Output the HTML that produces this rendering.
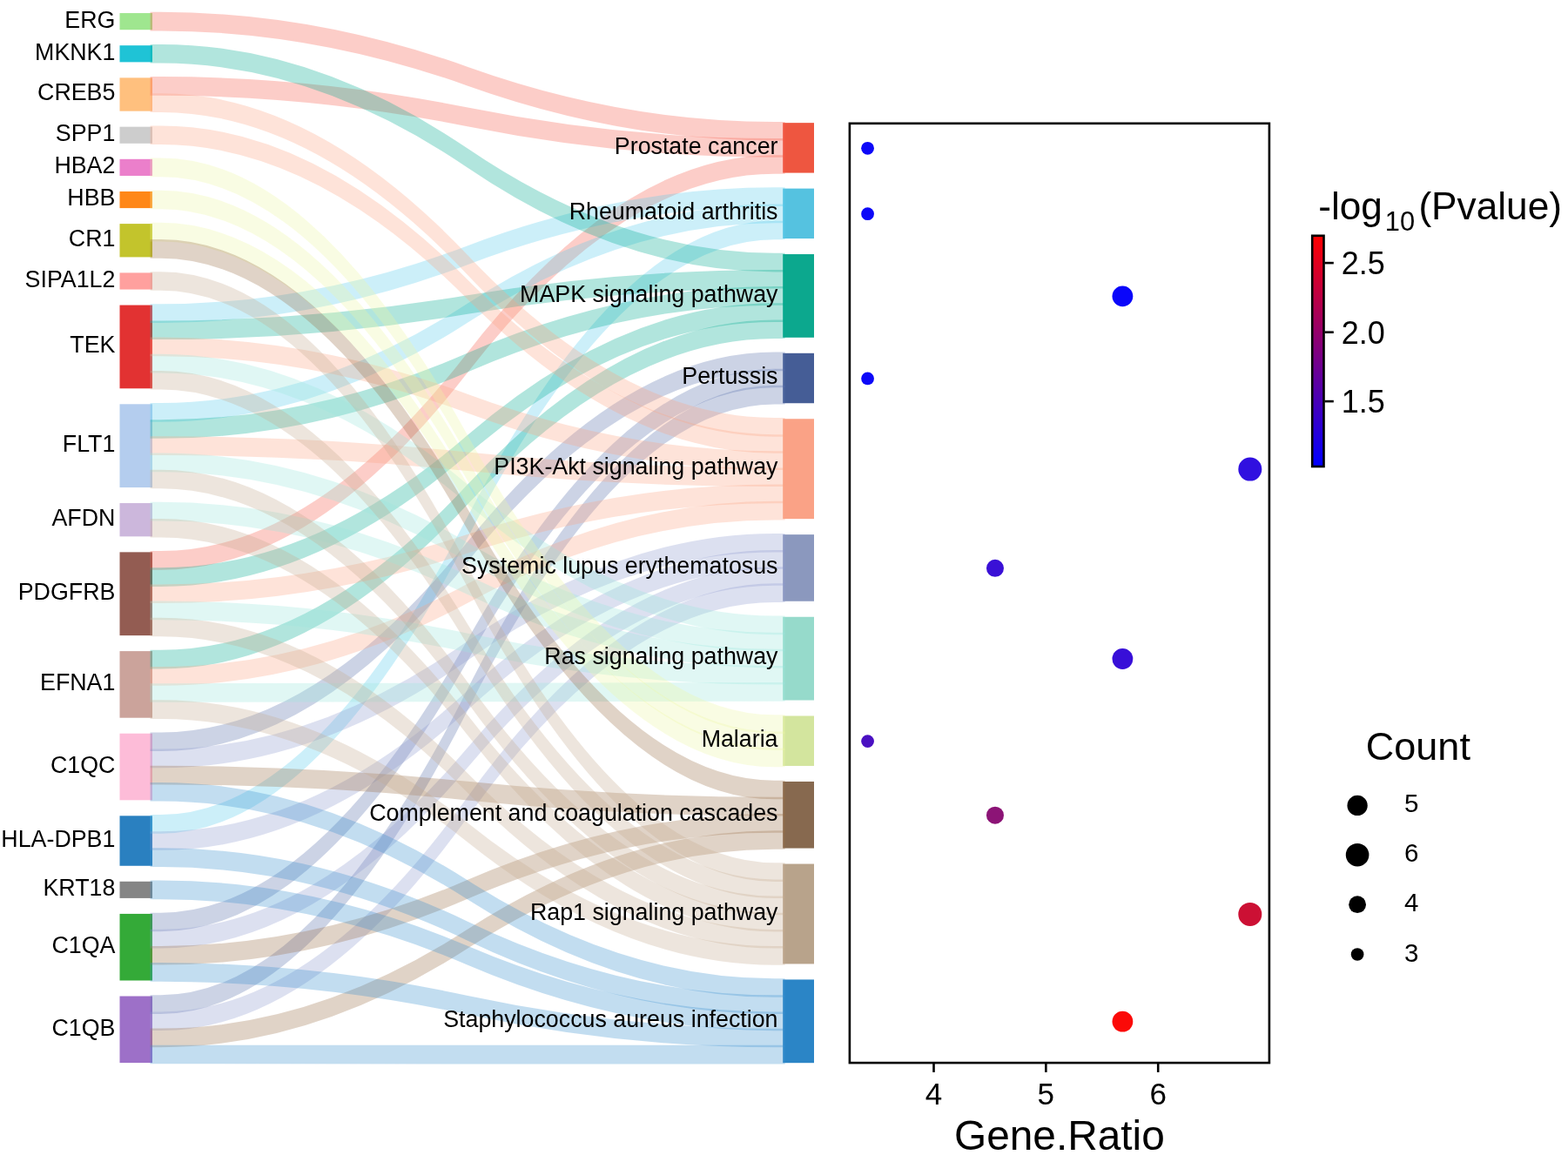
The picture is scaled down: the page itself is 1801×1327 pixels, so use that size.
<!DOCTYPE html>
<html lang="en">
<head>
<meta charset="utf-8">
<title>KEGG pathway Sankey dot plot</title>
<style>
html,body{margin:0;padding:0;background:#fff;}
body{width:1801px;height:1327px;overflow:hidden;}
svg{display:block;}
text{font-family:"Liberation Sans", sans-serif;fill:#000;}
.lab{font-size:26.8px;}
</style>
</head>
<body>
<svg width="1801" height="1327" viewBox="0 0 1801 1327">
<rect x="0" y="0" width="1801" height="1327" fill="#ffffff"/>
<g id="nodes">
<rect x="137.5" y="15.06" width="37.5" height="19.15" fill="#9FE68F" fill-opacity="1.0"/>
<rect x="137.5" y="52.21" width="37.5" height="19.15" fill="#1FC3D6" fill-opacity="1.0"/>
<rect x="137.5" y="89.36" width="37.5" height="38.3" fill="#FFC07E" fill-opacity="1.0"/>
<rect x="137.5" y="145.66" width="37.5" height="19.15" fill="#CDCDCD" fill-opacity="1.0"/>
<rect x="137.5" y="182.81" width="37.5" height="19.15" fill="#EB7FCB" fill-opacity="1.0"/>
<rect x="137.5" y="219.96" width="37.5" height="19.15" fill="#FF8718" fill-opacity="1.0"/>
<rect x="137.5" y="257.11" width="37.5" height="38.3" fill="#C3C42C" fill-opacity="1.0"/>
<rect x="137.5" y="313.41" width="37.5" height="19.15" fill="#FFA09E" fill-opacity="1.0"/>
<rect x="137.5" y="350.56" width="37.5" height="95.75" fill="#E23232" fill-opacity="1.0"/>
<rect x="137.5" y="464.31" width="37.5" height="95.75" fill="#B4CDEE" fill-opacity="1.0"/>
<rect x="137.5" y="578.06" width="37.5" height="38.3" fill="#CCB7DC" fill-opacity="1.0"/>
<rect x="137.5" y="634.36" width="37.5" height="95.75" fill="#935C52" fill-opacity="1.0"/>
<rect x="137.5" y="748.11" width="37.5" height="76.6" fill="#CBA39B" fill-opacity="1.0"/>
<rect x="137.5" y="842.71" width="37.5" height="76.6" fill="#FDBCD8" fill-opacity="1.0"/>
<rect x="137.5" y="937.31" width="37.5" height="57.45" fill="#2A80C0" fill-opacity="1.0"/>
<rect x="137.5" y="1012.76" width="37.5" height="19.15" fill="#858585" fill-opacity="1.0"/>
<rect x="137.5" y="1049.91" width="37.5" height="76.6" fill="#34AA38" fill-opacity="1.0"/>
<rect x="137.5" y="1144.51" width="37.5" height="76.6" fill="#9D70C8" fill-opacity="1.0"/>
<rect x="899.2" y="141.15" width="35.8" height="57.45" fill="#EE5640" fill-opacity="1.0"/>
<rect x="899.2" y="216.6" width="35.8" height="57.45" fill="#55C2E0" fill-opacity="1.0"/>
<rect x="899.2" y="292.05" width="35.8" height="95.75" fill="#0CA88E" fill-opacity="1.0"/>
<rect x="899.2" y="405.8" width="35.8" height="57.45" fill="#455D96" fill-opacity="1.0"/>
<rect x="899.2" y="481.25" width="35.8" height="114.9" fill="#FAA286" fill-opacity="1.0"/>
<rect x="899.2" y="614.15" width="35.8" height="76.6" fill="#8B98BE" fill-opacity="1.0"/>
<rect x="899.2" y="708.75" width="35.8" height="95.75" fill="#96DACB" fill-opacity="1.0"/>
<rect x="899.2" y="822.5" width="35.8" height="57.45" fill="#D3E59E" fill-opacity="1.0"/>
<rect x="899.2" y="897.95" width="35.8" height="76.6" fill="#87694F" fill-opacity="1.0"/>
<rect x="899.2" y="992.55" width="35.8" height="114.9" fill="#B8A38B" fill-opacity="1.0"/>
<rect x="899.2" y="1125.45" width="35.8" height="95.75" fill="#2B85C6" fill-opacity="1.0"/>
</g>
<g id="links" stroke-linejoin="miter" stroke-width="2.5">
<path d="M173.8,15.06L184.7,15.06Q360.9,15.06 537.1,78.11Q713.3,141.15 889.5,141.15L900.4,141.15L900.4,160.3L889.5,160.3Q713.3,160.3 537.1,97.26Q360.9,34.21 184.7,34.21L173.8,34.21Z" fill="#F85C4B" stroke="#F85C4B" opacity="0.3"/>
<path d="M173.8,89.36L184.7,89.36Q360.9,89.36 537.1,124.83Q713.3,160.3 889.5,160.3L900.4,160.3L900.4,179.45L889.5,179.45Q713.3,179.45 537.1,143.98Q360.9,108.51 184.7,108.51L173.8,108.51Z" fill="#F85C4B" stroke="#F85C4B" opacity="0.3"/>
<path d="M173.8,634.36L184.7,634.36Q360.9,634.36 537.1,406.9Q713.3,179.45 889.5,179.45L900.4,179.45L900.4,198.6L889.5,198.6Q713.3,198.6 537.1,426.05Q360.9,653.51 184.7,653.51L173.8,653.51Z" fill="#F85C4B" stroke="#F85C4B" opacity="0.3"/>
<path d="M173.8,350.56L184.7,350.56Q360.9,350.56 537.1,283.58Q713.3,216.6 889.5,216.6L900.4,216.6L900.4,235.75L889.5,235.75Q713.3,235.75 537.1,302.73Q360.9,369.71 184.7,369.71L173.8,369.71Z" fill="#58CDEE" stroke="#58CDEE" opacity="0.3"/>
<path d="M173.8,464.31L184.7,464.31Q360.9,464.31 537.1,350.03Q713.3,235.75 889.5,235.75L900.4,235.75L900.4,254.9L889.5,254.9Q713.3,254.9 537.1,369.18Q360.9,483.46 184.7,483.46L173.8,483.46Z" fill="#58CDEE" stroke="#58CDEE" opacity="0.3"/>
<path d="M173.8,937.31L184.7,937.31Q360.9,937.31 537.1,596.11Q713.3,254.9 889.5,254.9L900.4,254.9L900.4,274.05L889.5,274.05Q713.3,274.05 537.1,615.25Q360.9,956.46 184.7,956.46L173.8,956.46Z" fill="#58CDEE" stroke="#58CDEE" opacity="0.3"/>
<path d="M173.8,52.21L184.7,52.21Q360.9,52.21 537.1,172.13Q713.3,292.05 889.5,292.05L900.4,292.05L900.4,311.2L889.5,311.2Q713.3,311.2 537.1,191.28Q360.9,71.36 184.7,71.36L173.8,71.36Z" fill="#00AC91" stroke="#00AC91" opacity="0.3"/>
<path d="M173.8,369.71L184.7,369.71Q360.9,369.71 537.1,340.45Q713.3,311.2 889.5,311.2L900.4,311.2L900.4,330.35L889.5,330.35Q713.3,330.35 537.1,359.6Q360.9,388.86 184.7,388.86L173.8,388.86Z" fill="#00AC91" stroke="#00AC91" opacity="0.3"/>
<path d="M173.8,483.46L184.7,483.46Q360.9,483.46 537.1,406.9Q713.3,330.35 889.5,330.35L900.4,330.35L900.4,349.5L889.5,349.5Q713.3,349.5 537.1,426.05Q360.9,502.61 184.7,502.61L173.8,502.61Z" fill="#00AC91" stroke="#00AC91" opacity="0.3"/>
<path d="M173.8,653.51L184.7,653.51Q360.9,653.51 537.1,501.5Q713.3,349.5 889.5,349.5L900.4,349.5L900.4,368.65L889.5,368.65Q713.3,368.65 537.1,520.65Q360.9,672.66 184.7,672.66L173.8,672.66Z" fill="#00AC91" stroke="#00AC91" opacity="0.3"/>
<path d="M173.8,748.11L184.7,748.11Q360.9,748.11 537.1,558.38Q713.3,368.65 889.5,368.65L900.4,368.65L900.4,387.8L889.5,387.8Q713.3,387.8 537.1,577.53Q360.9,767.26 184.7,767.26L173.8,767.26Z" fill="#00AC91" stroke="#00AC91" opacity="0.3"/>
<path d="M173.8,842.71L184.7,842.71Q360.9,842.71 537.1,624.25Q713.3,405.8 889.5,405.8L900.4,405.8L900.4,424.95L889.5,424.95Q713.3,424.95 537.1,643.4Q360.9,861.86 184.7,861.86L173.8,861.86Z" fill="#5870AC" stroke="#5870AC" opacity="0.3"/>
<path d="M173.8,1049.91L184.7,1049.91Q360.9,1049.91 537.1,737.43Q713.3,424.95 889.5,424.95L900.4,424.95L900.4,444.1L889.5,444.1Q713.3,444.1 537.1,756.58Q360.9,1069.06 184.7,1069.06L173.8,1069.06Z" fill="#5870AC" stroke="#5870AC" opacity="0.3"/>
<path d="M173.8,1144.51L184.7,1144.51Q360.9,1144.51 537.1,794.3Q713.3,444.1 889.5,444.1L900.4,444.1L900.4,463.25L889.5,463.25Q713.3,463.25 537.1,813.46Q360.9,1163.66 184.7,1163.66L173.8,1163.66Z" fill="#5870AC" stroke="#5870AC" opacity="0.3"/>
<path d="M173.8,108.51L184.7,108.51Q360.9,108.51 537.1,294.88Q713.3,481.25 889.5,481.25L900.4,481.25L900.4,500.4L889.5,500.4Q713.3,500.4 537.1,314.03Q360.9,127.66 184.7,127.66L173.8,127.66Z" fill="#FCA584" stroke="#FCA584" opacity="0.3"/>
<path d="M173.8,145.66L184.7,145.66Q360.9,145.66 537.1,323.03Q713.3,500.4 889.5,500.4L900.4,500.4L900.4,519.55L889.5,519.55Q713.3,519.55 537.1,342.18Q360.9,164.81 184.7,164.81L173.8,164.81Z" fill="#FCA584" stroke="#FCA584" opacity="0.3"/>
<path d="M173.8,388.86L184.7,388.86Q360.9,388.86 537.1,454.2Q713.3,519.55 889.5,519.55L900.4,519.55L900.4,538.7L889.5,538.7Q713.3,538.7 537.1,473.35Q360.9,408.01 184.7,408.01L173.8,408.01Z" fill="#FCA584" stroke="#FCA584" opacity="0.3"/>
<path d="M173.8,502.61L184.7,502.61Q360.9,502.61 537.1,520.65Q713.3,538.7 889.5,538.7L900.4,538.7L900.4,557.85L889.5,557.85Q713.3,557.85 537.1,539.8Q360.9,521.76 184.7,521.76L173.8,521.76Z" fill="#FCA584" stroke="#FCA584" opacity="0.3"/>
<path d="M173.8,672.66L184.7,672.66Q360.9,672.66 537.1,615.25Q713.3,557.85 889.5,557.85L900.4,557.85L900.4,577L889.5,577Q713.3,577 537.1,634.4Q360.9,691.81 184.7,691.81L173.8,691.81Z" fill="#FCA584" stroke="#FCA584" opacity="0.3"/>
<path d="M173.8,767.26L184.7,767.26Q360.9,767.26 537.1,672.13Q713.3,577 889.5,577L900.4,577L900.4,596.15L889.5,596.15Q713.3,596.15 537.1,691.28Q360.9,786.41 184.7,786.41L173.8,786.41Z" fill="#FCA584" stroke="#FCA584" opacity="0.3"/>
<path d="M173.8,861.86L184.7,861.86Q360.9,861.86 537.1,738Q713.3,614.15 889.5,614.15L900.4,614.15L900.4,633.3L889.5,633.3Q713.3,633.3 537.1,757.15Q360.9,881.01 184.7,881.01L173.8,881.01Z" fill="#8F9BD0" stroke="#8F9BD0" opacity="0.3"/>
<path d="M173.8,956.46L184.7,956.46Q360.9,956.46 537.1,794.88Q713.3,633.3 889.5,633.3L900.4,633.3L900.4,652.45L889.5,652.45Q713.3,652.45 537.1,814.03Q360.9,975.61 184.7,975.61L173.8,975.61Z" fill="#8F9BD0" stroke="#8F9BD0" opacity="0.3"/>
<path d="M173.8,1069.06L184.7,1069.06Q360.9,1069.06 537.1,860.75Q713.3,652.45 889.5,652.45L900.4,652.45L900.4,671.6L889.5,671.6Q713.3,671.6 537.1,879.9Q360.9,1088.21 184.7,1088.21L173.8,1088.21Z" fill="#8F9BD0" stroke="#8F9BD0" opacity="0.3"/>
<path d="M173.8,1163.66L184.7,1163.66Q360.9,1163.66 537.1,917.63Q713.3,671.6 889.5,671.6L900.4,671.6L900.4,690.75L889.5,690.75Q713.3,690.75 537.1,936.78Q360.9,1182.81 184.7,1182.81L173.8,1182.81Z" fill="#8F9BD0" stroke="#8F9BD0" opacity="0.3"/>
<path d="M173.8,408.01L184.7,408.01Q360.9,408.01 537.1,558.38Q713.3,708.75 889.5,708.75L900.4,708.75L900.4,727.9L889.5,727.9Q713.3,727.9 537.1,577.53Q360.9,427.16 184.7,427.16L173.8,427.16Z" fill="#9BE8DE" stroke="#9BE8DE" opacity="0.3"/>
<path d="M173.8,521.76L184.7,521.76Q360.9,521.76 537.1,624.83Q713.3,727.9 889.5,727.9L900.4,727.9L900.4,747.05L889.5,747.05Q713.3,747.05 537.1,643.98Q360.9,540.91 184.7,540.91L173.8,540.91Z" fill="#9BE8DE" stroke="#9BE8DE" opacity="0.3"/>
<path d="M173.8,578.06L184.7,578.06Q360.9,578.06 537.1,662.55Q713.3,747.05 889.5,747.05L900.4,747.05L900.4,766.2L889.5,766.2Q713.3,766.2 537.1,681.7Q360.9,597.21 184.7,597.21L173.8,597.21Z" fill="#9BE8DE" stroke="#9BE8DE" opacity="0.3"/>
<path d="M173.8,691.81L184.7,691.81Q360.9,691.81 537.1,729Q713.3,766.2 889.5,766.2L900.4,766.2L900.4,785.35L889.5,785.35Q713.3,785.35 537.1,748.15Q360.9,710.96 184.7,710.96L173.8,710.96Z" fill="#9BE8DE" stroke="#9BE8DE" opacity="0.3"/>
<path d="M173.8,786.41L184.7,786.41Q360.9,786.41 537.1,785.88Q713.3,785.35 889.5,785.35L900.4,785.35L900.4,804.5L889.5,804.5Q713.3,804.5 537.1,805.03Q360.9,805.56 184.7,805.56L173.8,805.56Z" fill="#9BE8DE" stroke="#9BE8DE" opacity="0.3"/>
<path d="M173.8,182.81L184.7,182.81Q360.9,182.81 537.1,502.65Q713.3,822.5 889.5,822.5L900.4,822.5L900.4,841.65L889.5,841.65Q713.3,841.65 537.1,521.8Q360.9,201.96 184.7,201.96L173.8,201.96Z" fill="#EEF8A5" stroke="#EEF8A5" opacity="0.3"/>
<path d="M173.8,219.96L184.7,219.96Q360.9,219.96 537.1,530.8Q713.3,841.65 889.5,841.65L900.4,841.65L900.4,860.8L889.5,860.8Q713.3,860.8 537.1,549.95Q360.9,239.11 184.7,239.11L173.8,239.11Z" fill="#EEF8A5" stroke="#EEF8A5" opacity="0.3"/>
<path d="M173.8,257.11L184.7,257.11Q360.9,257.11 537.1,558.95Q713.3,860.8 889.5,860.8L900.4,860.8L900.4,879.95L889.5,879.95Q713.3,879.95 537.1,578.1Q360.9,276.26 184.7,276.26L173.8,276.26Z" fill="#EEF8A5" stroke="#EEF8A5" opacity="0.3"/>
<path d="M173.8,276.26L184.7,276.26Q360.9,276.26 537.1,587.1Q713.3,897.95 889.5,897.95L900.4,897.95L900.4,917.1L889.5,917.1Q713.3,917.1 537.1,606.25Q360.9,295.41 184.7,295.41L173.8,295.41Z" fill="#9B7048" stroke="#9B7048" opacity="0.3"/>
<path d="M173.8,881.01L184.7,881.01Q360.9,881.01 537.1,899.05Q713.3,917.1 889.5,917.1L900.4,917.1L900.4,936.25L889.5,936.25Q713.3,936.25 537.1,918.2Q360.9,900.16 184.7,900.16L173.8,900.16Z" fill="#9B7048" stroke="#9B7048" opacity="0.3"/>
<path d="M173.8,1088.21L184.7,1088.21Q360.9,1088.21 537.1,1012.23Q713.3,936.25 889.5,936.25L900.4,936.25L900.4,955.4L889.5,955.4Q713.3,955.4 537.1,1031.38Q360.9,1107.36 184.7,1107.36L173.8,1107.36Z" fill="#9B7048" stroke="#9B7048" opacity="0.3"/>
<path d="M173.8,1182.81L184.7,1182.81Q360.9,1182.81 537.1,1069.11Q713.3,955.4 889.5,955.4L900.4,955.4L900.4,974.55L889.5,974.55Q713.3,974.55 537.1,1088.25Q360.9,1201.96 184.7,1201.96L173.8,1201.96Z" fill="#9B7048" stroke="#9B7048" opacity="0.3"/>
<path d="M173.8,313.41L184.7,313.41Q360.9,313.41 537.1,652.98Q713.3,992.55 889.5,992.55L900.4,992.55L900.4,1011.7L889.5,1011.7Q713.3,1011.7 537.1,672.13Q360.9,332.56 184.7,332.56L173.8,332.56Z" fill="#C6AC91" stroke="#C6AC91" opacity="0.3"/>
<path d="M173.8,427.16L184.7,427.16Q360.9,427.16 537.1,719.43Q713.3,1011.7 889.5,1011.7L900.4,1011.7L900.4,1030.85L889.5,1030.85Q713.3,1030.85 537.1,738.58Q360.9,446.31 184.7,446.31L173.8,446.31Z" fill="#C6AC91" stroke="#C6AC91" opacity="0.3"/>
<path d="M173.8,540.91L184.7,540.91Q360.9,540.91 537.1,785.88Q713.3,1030.85 889.5,1030.85L900.4,1030.85L900.4,1050L889.5,1050Q713.3,1050 537.1,805.03Q360.9,560.06 184.7,560.06L173.8,560.06Z" fill="#C6AC91" stroke="#C6AC91" opacity="0.3"/>
<path d="M173.8,597.21L184.7,597.21Q360.9,597.21 537.1,823.6Q713.3,1050 889.5,1050L900.4,1050L900.4,1069.15L889.5,1069.15Q713.3,1069.15 537.1,842.75Q360.9,616.36 184.7,616.36L173.8,616.36Z" fill="#C6AC91" stroke="#C6AC91" opacity="0.3"/>
<path d="M173.8,710.96L184.7,710.96Q360.9,710.96 537.1,890.05Q713.3,1069.15 889.5,1069.15L900.4,1069.15L900.4,1088.3L889.5,1088.3Q713.3,1088.3 537.1,909.2Q360.9,730.11 184.7,730.11L173.8,730.11Z" fill="#C6AC91" stroke="#C6AC91" opacity="0.3"/>
<path d="M173.8,805.56L184.7,805.56Q360.9,805.56 537.1,946.93Q713.3,1088.3 889.5,1088.3L900.4,1088.3L900.4,1107.45L889.5,1107.45Q713.3,1107.45 537.1,966.08Q360.9,824.71 184.7,824.71L173.8,824.71Z" fill="#C6AC91" stroke="#C6AC91" opacity="0.3"/>
<path d="M173.8,900.16L184.7,900.16Q360.9,900.16 537.1,1012.8Q713.3,1125.45 889.5,1125.45L900.4,1125.45L900.4,1144.6L889.5,1144.6Q713.3,1144.6 537.1,1031.95Q360.9,919.31 184.7,919.31L173.8,919.31Z" fill="#3A91D0" stroke="#3A91D0" opacity="0.3"/>
<path d="M173.8,975.61L184.7,975.61Q360.9,975.61 537.1,1060.11Q713.3,1144.6 889.5,1144.6L900.4,1144.6L900.4,1163.75L889.5,1163.75Q713.3,1163.75 537.1,1079.25Q360.9,994.76 184.7,994.76L173.8,994.76Z" fill="#3A91D0" stroke="#3A91D0" opacity="0.3"/>
<path d="M173.8,1012.76L184.7,1012.76Q360.9,1012.76 537.1,1088.25Q713.3,1163.75 889.5,1163.75L900.4,1163.75L900.4,1182.9L889.5,1182.9Q713.3,1182.9 537.1,1107.4Q360.9,1031.91 184.7,1031.91L173.8,1031.91Z" fill="#3A91D0" stroke="#3A91D0" opacity="0.3"/>
<path d="M173.8,1107.36L184.7,1107.36Q360.9,1107.36 537.1,1145.13Q713.3,1182.9 889.5,1182.9L900.4,1182.9L900.4,1202.05L889.5,1202.05Q713.3,1202.05 537.1,1164.28Q360.9,1126.51 184.7,1126.51L173.8,1126.51Z" fill="#3A91D0" stroke="#3A91D0" opacity="0.3"/>
<path d="M173.8,1201.96L184.7,1201.96Q360.9,1201.96 537.1,1202Q713.3,1202.05 889.5,1202.05L900.4,1202.05L900.4,1221.2L889.5,1221.2Q713.3,1221.2 537.1,1221.15Q360.9,1221.11 184.7,1221.11L173.8,1221.11Z" fill="#3A91D0" stroke="#3A91D0" opacity="0.3"/>
</g>
<g id="labels" class="lab" text-anchor="end">
<text x="132.4" y="31.53">ERG</text>
<text x="132.4" y="68.69">MKNK1</text>
<text x="132.4" y="115.41">CREB5</text>
<text x="132.4" y="162.13">SPP1</text>
<text x="132.4" y="199.28">HBA2</text>
<text x="132.4" y="236.44">HBB</text>
<text x="132.4" y="283.16">CR1</text>
<text x="132.4" y="329.88">SIPA1L2</text>
<text x="132.4" y="405.33">TEK</text>
<text x="132.4" y="519.08">FLT1</text>
<text x="132.4" y="604.11">AFDN</text>
<text x="132.4" y="689.13">PDGFRB</text>
<text x="132.4" y="793.31">EFNA1</text>
<text x="132.4" y="887.91">C1QC</text>
<text x="132.4" y="972.93">HLA-DPB1</text>
<text x="132.4" y="1029.24">KRT18</text>
<text x="132.4" y="1095.11">C1QA</text>
<text x="132.4" y="1189.71">C1QB</text>
<text x="893.5" y="176.57">Prostate cancer</text>
<text x="893.5" y="252.02">Rheumatoid arthritis</text>
<text x="893.5" y="346.62">MAPK signaling pathway</text>
<text x="893.5" y="441.22">Pertussis</text>
<text x="893.5" y="545.4">PI3K-Akt signaling pathway</text>
<text x="893.5" y="659.15">Systemic lupus erythematosus</text>
<text x="893.5" y="763.32">Ras signaling pathway</text>
<text x="893.5" y="857.92">Malaria</text>
<text x="893.5" y="942.95">Complement and coagulation cascades</text>
<text x="893.5" y="1056.7">Rap1 signaling pathway</text>
<text x="893.5" y="1180.02">Staphylococcus aureus infection</text>
</g>
<g id="dotplot">
<rect x="975.9" y="141.8" width="482" height="1079.3" fill="none" stroke="#000" stroke-width="2.6"/>
<line x1="1072.5" y1="1221.1" x2="1072.5" y2="1231.9" stroke="#000" stroke-width="2.6"/>
<text x="1072.5" y="1268.8" font-size="35" text-anchor="middle">4</text>
<line x1="1201.35" y1="1221.1" x2="1201.35" y2="1231.9" stroke="#000" stroke-width="2.6"/>
<text x="1201.35" y="1268.8" font-size="35" text-anchor="middle">5</text>
<line x1="1330.2" y1="1221.1" x2="1330.2" y2="1231.9" stroke="#000" stroke-width="2.6"/>
<text x="1330.2" y="1268.8" font-size="35" text-anchor="middle">6</text>
<text x="1216.9" y="1321" font-size="47.8" text-anchor="middle">Gene.Ratio</text>
<circle cx="996.56" cy="170.28" r="7.4" fill="#0D08F8"/>
<circle cx="996.56" cy="245.72" r="7.4" fill="#0D08F8"/>
<circle cx="1289.4" cy="340.32" r="11.9" fill="#0A06FA"/>
<circle cx="996.56" cy="434.92" r="7.4" fill="#0D08F8"/>
<circle cx="1435.82" cy="539.1" r="13.5" fill="#3010E0"/>
<circle cx="1142.98" cy="652.85" r="10" fill="#3A10D6"/>
<circle cx="1289.4" cy="757.02" r="11.9" fill="#380FD8"/>
<circle cx="996.56" cy="851.62" r="7.4" fill="#4A10C2"/>
<circle cx="1142.98" cy="936.65" r="10" fill="#8C1476"/>
<circle cx="1435.82" cy="1050.4" r="13.5" fill="#CC1034"/>
<circle cx="1289.4" cy="1173.72" r="11.9" fill="#FB0A08"/>
</g>
<defs><linearGradient id="cb" x1="0" y1="1" x2="0" y2="0">
<stop offset="0" stop-color="#0000FF"/><stop offset="0.25" stop-color="#4000C0"/><stop offset="0.5" stop-color="#800080"/><stop offset="0.75" stop-color="#C00040"/><stop offset="1" stop-color="#FF0000"/>
</linearGradient></defs>
<g id="legend-colour">
<text y="251.6" font-size="44.2"><tspan x="1514.2">-log</tspan><tspan x="1590.8" dy="13.4" font-size="30.8">10</tspan><tspan x="1629.4" dy="-13.4">(Pvalue)</tspan></text>
<rect x="1507.2" y="270.8" width="13.3" height="265.2" fill="url(#cb)" stroke="#000" stroke-width="2.6"/>
<line x1="1521.5" y1="302.1" x2="1531.8" y2="302.1" stroke="#000" stroke-width="2.6"/>
<text x="1540.8" y="315.3" font-size="36">2.5</text>
<line x1="1521.5" y1="381.7" x2="1531.8" y2="381.7" stroke="#000" stroke-width="2.6"/>
<text x="1540.8" y="394.9" font-size="36">2.0</text>
<line x1="1521.5" y1="461.1" x2="1531.8" y2="461.1" stroke="#000" stroke-width="2.6"/>
<text x="1540.8" y="474.3" font-size="36">1.5</text>
</g>
<g id="legend-count">
<text x="1568.8" y="872.5" font-size="45">Count</text>
<circle cx="1559.1" cy="925.4" r="11.65" fill="#000"/>
<text x="1613" y="933.4" font-size="29.5">5</text>
<circle cx="1559.1" cy="982.2" r="13.3" fill="#000"/>
<text x="1613" y="990.2" font-size="29.5">6</text>
<circle cx="1559.1" cy="1039.2" r="9.9" fill="#000"/>
<text x="1613" y="1047.2" font-size="29.5">4</text>
<circle cx="1559.1" cy="1096.5" r="7.35" fill="#000"/>
<text x="1613" y="1104.5" font-size="29.5">3</text>
</g>
</svg>
</body>
</html>
